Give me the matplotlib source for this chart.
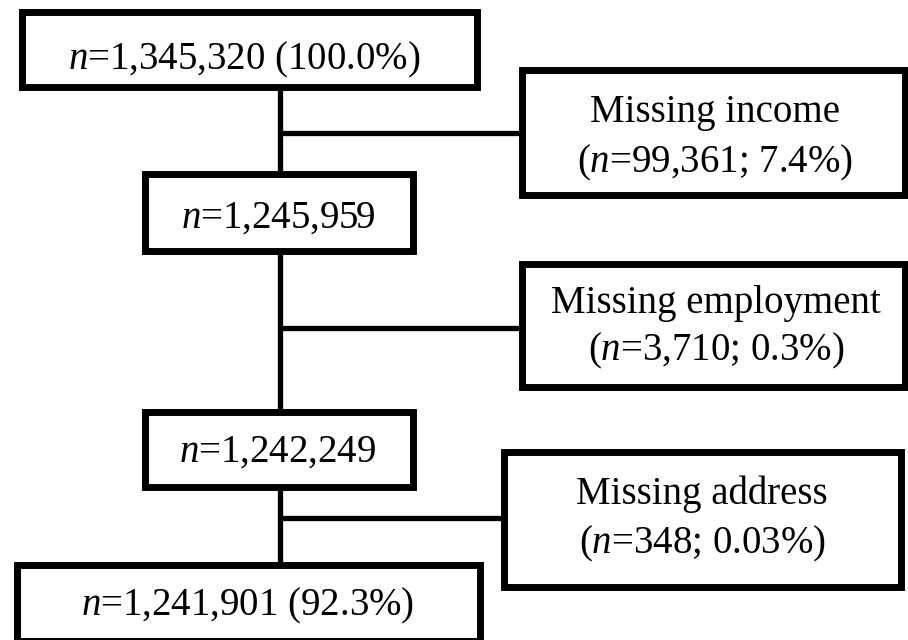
import matplotlib
matplotlib.use("Agg")
import matplotlib.pyplot as plt
from matplotlib.patches import Rectangle

plt.rcParams['font.family'] = ['Liberation Serif', 'DejaVu Serif']
plt.rcParams['mathtext.fontset'] = 'custom'
plt.rcParams['mathtext.rm'] = 'Liberation Serif'
plt.rcParams['mathtext.it'] = 'Liberation Serif:italic'

# ---- data ----
main_counts = [1345320, 1245959, 1242249, 1241901]
main_pcts = ['100.0%', None, None, '92.3%']
excl_labels = ['Missing income', 'Missing employment', 'Missing address']
excl_counts = [99361, 3710, 348]
excl_pcts = ['7.4%', '0.3%', '0.03%']

W, H = 908, 640
fig = plt.figure(figsize=(W / 100, H / 100), dpi=100)
ax = fig.add_axes([0, 0, 1, 1])
ax.set_xlim(0, W)
ax.set_ylim(H, 0)
ax.axis('off')

FS = 28
BOX_LW = 5.0
LINE_LW = 3.8

# layout (x0, y0, x1, y1) edge centres
main_boxes = [(21.5, 11.5, 477, 86.5), (145, 174, 413, 250.5),
              (145, 411.5, 413, 487), (16.5, 565, 480, 641)]
main_text_pos = [(244, 69), (278, 228), (278, 462), (248, 615)]
excl_boxes = [(521.5, 70, 905, 195), (521.5, 263.5, 905, 386.5),
              (504, 451.5, 901, 586.5)]
excl_text_pos = [(715, 122, 172), (716, 313, 360), (702, 504, 553)]
connector_y = [133, 328, 517.5]
trunk_x = 280


def draw_box(b):
    x0, y0, x1, y1 = b
    ax.add_patch(Rectangle((x0, y0), x1 - x0, y1 - y0, fill=True,
                           facecolor='white', edgecolor='black',
                           linewidth=BOX_LW, joinstyle='miter',
                           clip_on=False, zorder=3))


# trunk segments
for i in range(len(main_boxes) - 1):
    ax.plot([trunk_x, trunk_x], [main_boxes[i][3], main_boxes[i + 1][1]],
            color='black', lw=LINE_LW, solid_capstyle='butt', zorder=2)
# branches
for y, b in zip(connector_y, excl_boxes):
    ax.plot([trunk_x, b[0]], [y, y], color='black', lw=LINE_LW,
            solid_capstyle='butt', zorder=2)

for b, (tx, ty), c, p in zip(main_boxes, main_text_pos, main_counts, main_pcts):
    draw_box(b)
    s = r'$n$=' + f'{c:,}'
    if p:
        s += f' ({p})'
    ax.text(tx, ty, s, ha='center', va='baseline', fontsize=FS, zorder=4)

for b, (tx, ty1, ty2), lab, c, p in zip(excl_boxes, excl_text_pos,
                                        excl_labels, excl_counts, excl_pcts):
    draw_box(b)
    ax.text(tx, ty1, lab, ha='center', va='baseline', fontsize=FS, zorder=4)
    ax.text(tx, ty2, r'($n$=' + f'{c:,}; {p})', ha='center', va='baseline',
            fontsize=FS, zorder=4)

fig.savefig('out.png', dpi=100, facecolor='white')
